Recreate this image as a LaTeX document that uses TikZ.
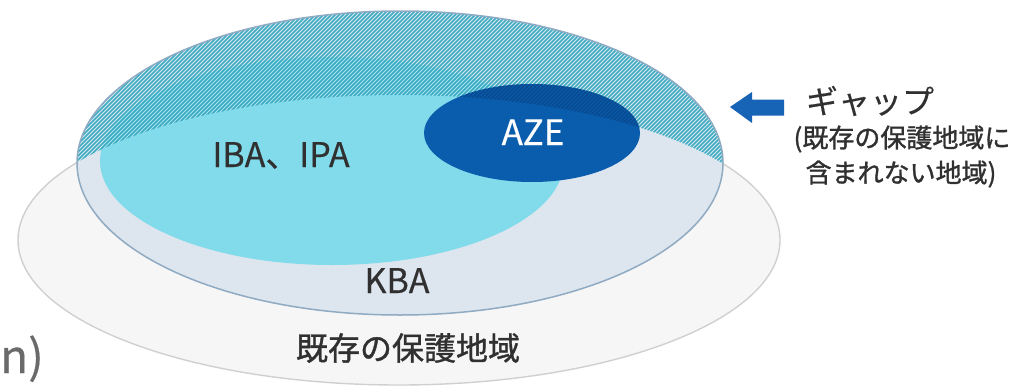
\documentclass[tikz,border=0pt]{standalone}
\usepackage{fontspec}
\setmainfont{Noto Sans CJK JP}[FakeBold=0.4]
\newfontfamily\cjkbold[FakeBold=1.2]{Noto Sans CJK JP}
\definecolor{outerfill}{HTML}{F6F6F6}
\definecolor{outerline}{HTML}{D0D0D0}
\definecolor{kbafill}{HTML}{DDE6EE}
\definecolor{kbaline}{HTML}{8FAAC3}
\definecolor{ibafill}{HTML}{82DBEB}
\definecolor{azefill}{HTML}{0A5CAD}
\definecolor{hatchcol}{HTML}{26A0BA}
\definecolor{azehatch}{HTML}{063F7E}
\definecolor{gapfill}{HTML}{D2F0F4}
\definecolor{arrowblue}{HTML}{1763B6}
\definecolor{txt}{HTML}{303030}
\definecolor{greytxt}{HTML}{6A6A6A}
\begin{document}
\begin{tikzpicture}[x=1pt,y=-1pt,
  lbl/.style={inner sep=0pt, text=txt},
  hatchline/.style={draw=hatchcol, line width=1.6pt, opacity=0.85},
]
\useasboundingbox (0,0) rectangle (1020,386);
\fill[white] (0,0) rectangle (1020,386);
\coordinate (oc) at (399,240);
\coordinate (kc) at (400,163);
\coordinate (ic) at (332,161);
\coordinate (ac) at (532,133);
% existing protected areas
\filldraw[fill=outerfill, draw=outerline, line width=1.4pt] (oc) ellipse [x radius=381, y radius=145];
% KBA
\fill[kbafill] (kc) ellipse [x radius=323, y radius=152];
% IBA, IPA
\begin{scope}
  \clip (kc) ellipse [x radius=323, y radius=152];
  \fill[ibafill] (ic) ellipse [x radius=232, y radius=104];
\end{scope}
% gap hatch
\begin{scope}
  \clip (kc) ellipse [x radius=323, y radius=152];
  \begin{scope}[even odd rule]
    \clip (-5,-5) rectangle (1025,391) (oc) ellipse [x radius=381, y radius=145];
    \fill[gapfill, opacity=0.45] (0,0) rectangle (1020,386);
    \foreach \i in {-200,-196,...,760} {
      \draw[hatchline] (\i,190) -- (\i+190,0);
    }
  \end{scope}
\end{scope}
% AZE
\fill[azefill] (ac) ellipse [x radius=108, y radius=49];
\begin{scope}
  \clip (ac) ellipse [x radius=108, y radius=49];
  \begin{scope}[even odd rule]
    \clip (-5,-5) rectangle (1025,391) (oc) ellipse [x radius=381, y radius=145];
    \foreach \i in {300,304,...,700} {
      \draw[draw=azehatch, line width=1.6pt, opacity=0.6] (\i,190) -- (\i+190,0);
    }
  \end{scope}
\end{scope}
\draw[kbaline, line width=1.5pt] (kc) ellipse [x radius=323, y radius=152];
% labels
\node[lbl, anchor=base, font=\fontsize{34}{34}\selectfont] (iba) at (281,167) {IBA、IPA};
\node[lbl, anchor=base, font=\fontsize{35}{35}\selectfont, text=white] (aze) at (533,145) {AZE};
\node[lbl, anchor=base, font=\fontsize{34}{34}\selectfont] (kba) at (397,293) {KBA};
\node[lbl, font=\fontsize{32}{32}\selectfont\cjkbold] (pa) at (408,348) {既存の保護地域};
% arrow
\fill[arrowblue] (730,107) -- (752,92) -- (752,99.5) -- (784,99.5) -- (784,115.5) -- (752,115.5) -- (752,123) -- cycle;
\node[lbl, font=\fontsize{32}{32}\selectfont] (gap) at (870,101) {ギャップ};
\node[lbl, font=\fontsize{26}{26}\selectfont\cjkbold] (gap1) at (902,139) {(既存の保護地域に};
\node[lbl, font=\fontsize{26}{26}\selectfont\cjkbold] (gap2) at (901,174) {含まれない地域)};
\node[lbl, anchor=base west, text=greytxt, font=\fontsize{46}{46}\selectfont] (frag) at (0,373) {n)};
\end{tikzpicture}
\end{document}
